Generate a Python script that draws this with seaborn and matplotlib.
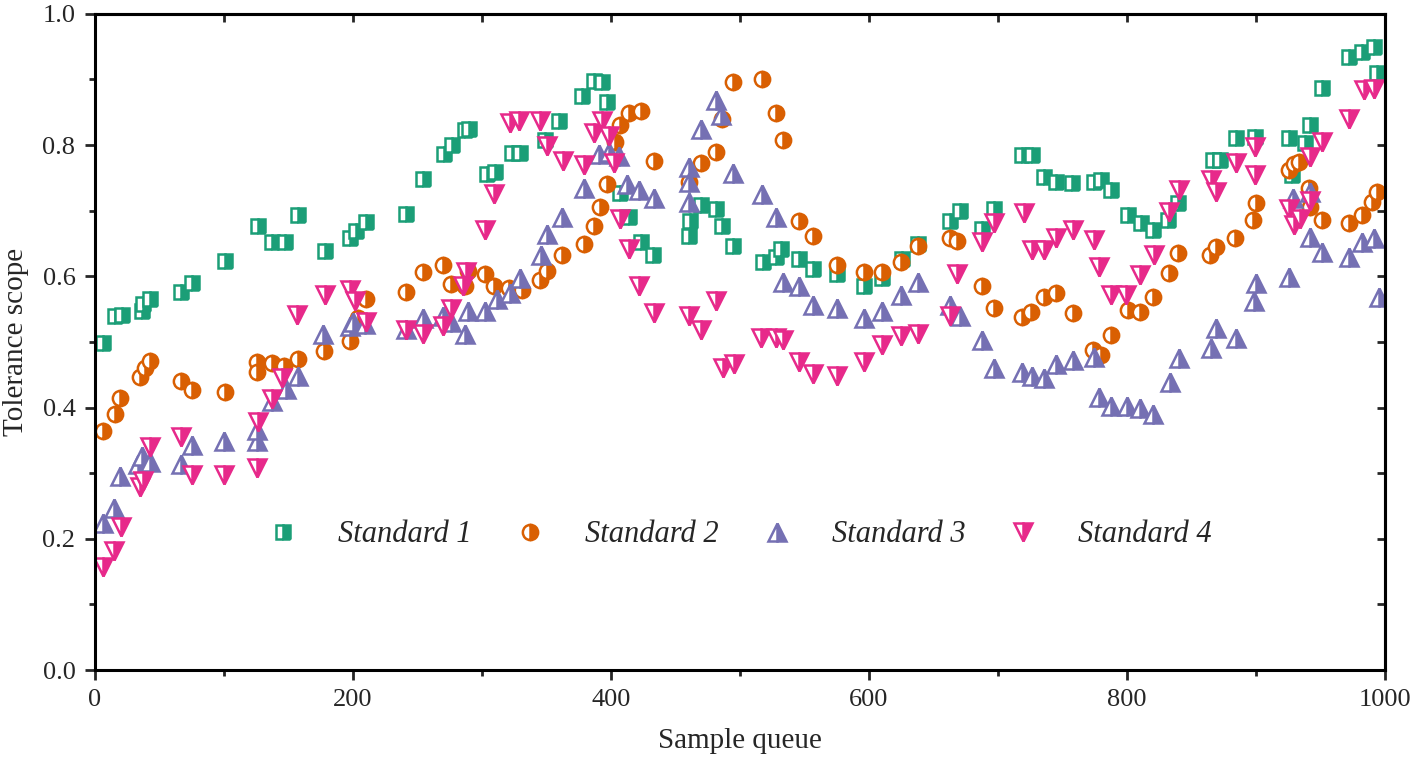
import pandas as pd
import matplotlib
matplotlib.use('Agg')
import matplotlib.pyplot as plt
from matplotlib.ticker import MultipleLocator, FormatStrFormatter
import seaborn as sns

# values
s1_x = [6.2, 15.4, 20.8, 36.2, 37.0, 42.4, 67.0, 75.5, 100.9, 126.3, 137.1, 147.1, 157.2, 178.7,
        198.0, 202.6, 210.3, 241.1, 254.2, 270.4, 276.6, 286.6, 290.4, 304.3, 310.5, 323.6, 329.7,
        349.0, 359.8, 377.5, 386.7, 392.9, 396.8, 406.8, 413.7, 423.7, 433.0, 460.7, 461.5, 470.0,
        481.5, 486.1, 494.6, 517.7, 527.7, 531.6, 545.5, 557.0, 575.5, 596.3, 610.2, 625.6, 637.9,
        662.6, 670.3, 688.0, 697.2, 718.8, 726.5, 735.7, 745.0, 757.3, 774.3, 779.7, 787.4, 801.2,
        811.2, 820.5, 832.0, 839.8, 866.7, 872.1, 884.4, 899.1, 926.0, 928.4, 938.4, 942.2, 951.5,
        972.3, 982.3, 991.5, 993.8]
s1_y = [0.498, 0.540, 0.541, 0.547, 0.558, 0.566, 0.576, 0.590, 0.623, 0.677, 0.652, 0.652, 0.694, 0.639,
        0.659, 0.669, 0.683, 0.695, 0.748, 0.787, 0.800, 0.823, 0.825, 0.756, 0.759, 0.788, 0.788,
        0.808, 0.837, 0.875, 0.898, 0.896, 0.866, 0.727, 0.691, 0.652, 0.633, 0.662, 0.684, 0.709,
        0.703, 0.677, 0.646, 0.622, 0.630, 0.642, 0.627, 0.611, 0.604, 0.585, 0.598, 0.627, 0.649,
        0.684, 0.700, 0.672, 0.703, 0.785, 0.785, 0.752, 0.744, 0.742, 0.744, 0.747, 0.732, 0.694,
        0.681, 0.671, 0.686, 0.712, 0.777, 0.777, 0.811, 0.812, 0.811, 0.755, 0.803, 0.831, 0.887,
        0.934, 0.942, 0.950, 0.910]

s2_x = [6.2, 15.4, 19.3, 34.7, 38.5, 42.4, 67.0, 75.5, 100.9, 125.6, 125.6, 137.1, 146.4, 157.2,
        178.0, 198.0, 204.2, 210.3, 241.1, 254.2, 269.6, 275.8, 286.6, 288.9, 302.8, 309.7, 321.3,
        331.3, 345.1, 350.5, 362.1, 379.0, 386.7, 391.4, 396.8, 402.9, 406.8, 413.7, 423.0, 433.7,
        460.7, 470.0, 481.5, 486.1, 494.6, 517.0, 527.7, 533.1, 545.5, 557.0, 575.5, 596.3, 610.2,
        624.8, 637.9, 662.6, 668.7, 688.0, 697.2, 718.8, 725.7, 735.7, 745.0, 758.1, 773.5, 779.7,
        787.4, 801.2, 810.5, 820.5, 832.8, 839.8, 864.4, 869.0, 883.7, 897.5, 899.8, 926.0, 929.9,
        933.7, 941.4, 942.2, 951.5, 972.3, 982.3, 990.0, 993.8]
s2_y = [0.364, 0.390, 0.415, 0.447, 0.460, 0.471, 0.441, 0.427, 0.424, 0.470, 0.454, 0.468, 0.463, 0.474,
        0.486, 0.502, 0.537, 0.566, 0.576, 0.607, 0.617, 0.588, 0.585, 0.608, 0.604, 0.585, 0.582,
        0.579, 0.595, 0.608, 0.633, 0.649, 0.677, 0.706, 0.741, 0.805, 0.831, 0.849, 0.852, 0.776,
        0.744, 0.773, 0.790, 0.840, 0.896, 0.901, 0.849, 0.808, 0.684, 0.662, 0.617, 0.607, 0.607,
        0.622, 0.646, 0.659, 0.654, 0.585, 0.552, 0.538, 0.546, 0.569, 0.575, 0.544, 0.488, 0.480,
        0.511, 0.549, 0.546, 0.569, 0.605, 0.636, 0.633, 0.645, 0.659, 0.686, 0.712, 0.762, 0.771,
        0.774, 0.735, 0.706, 0.686, 0.681, 0.694, 0.713, 0.729]

s3_x = [6.2, 14.6, 19.3, 33.1, 36.2, 42.4, 67.0, 75.5, 100.2, 125.6, 125.6, 137.1, 147.9, 157.2,
        177.2, 198.0, 200.3, 209.6, 241.1, 254.2, 269.6, 275.8, 286.6, 288.9, 302.8, 312.0, 322.0,
        329.7, 345.9, 350.5, 362.1, 379.0, 390.6, 398.3, 406.0, 412.2, 422.2, 433.7, 460.7, 460.7,
        460.7, 470.0, 481.5, 485.4, 494.6, 517.0, 527.7, 533.1, 545.5, 557.0, 575.5, 596.3, 610.2,
        624.8, 637.9, 662.6, 670.3, 688.0, 697.2, 718.8, 726.5, 735.7, 745.0, 758.1, 774.3, 778.1,
        787.4, 800.5, 810.5, 820.5, 833.6, 840.5, 865.2, 869.0, 884.4, 898.3, 899.8, 926.0, 929.1,
        942.2, 942.2, 951.5, 972.3, 982.3, 991.5, 995.4]
s3_y = [0.224, 0.247, 0.296, 0.314, 0.326, 0.317, 0.314, 0.343, 0.349, 0.349, 0.366, 0.410, 0.428, 0.448,
        0.512, 0.524, 0.530, 0.527, 0.520, 0.537, 0.540, 0.530, 0.512, 0.547, 0.547, 0.566, 0.575,
        0.598, 0.633, 0.665, 0.691, 0.735, 0.787, 0.790, 0.784, 0.741, 0.732, 0.720, 0.767, 0.744,
        0.713, 0.825, 0.869, 0.846, 0.758, 0.726, 0.691, 0.591, 0.585, 0.556, 0.552, 0.537, 0.547,
        0.572, 0.591, 0.556, 0.540, 0.503, 0.460, 0.454, 0.448, 0.445, 0.466, 0.473, 0.477, 0.416,
        0.402, 0.402, 0.399, 0.390, 0.439, 0.476, 0.491, 0.521, 0.506, 0.563, 0.590, 0.599, 0.720,
        0.729, 0.660, 0.637, 0.630, 0.652, 0.659, 0.569]

s4_x = [6.2, 14.6, 20.0, 34.7, 37.0, 42.4, 67.0, 75.5, 100.2, 125.6, 126.3, 137.1, 144.8, 156.4,
        178.7, 198.0, 201.8, 210.3, 241.1, 254.2, 269.6, 275.8, 285.1, 287.4, 302.8, 309.7, 322.0,
        329.0, 345.1, 350.5, 362.9, 379.0, 386.7, 392.9, 398.3, 402.2, 406.8, 413.7, 422.2, 433.7,
        460.7, 470.0, 481.5, 486.9, 495.4, 516.2, 527.7, 533.1, 545.5, 557.0, 575.5, 596.3, 610.2,
        624.8, 637.9, 662.6, 668.7, 688.0, 697.2, 720.3, 726.5, 735.7, 745.0, 758.1, 774.3, 778.1,
        787.4, 799.7, 810.5, 821.3, 832.8, 840.5, 865.2, 869.0, 884.4, 899.1, 899.1, 926.0, 929.9,
        934.5, 942.2, 942.2, 951.5, 972.3, 983.8, 991.5]
s4_y = [0.157, 0.181, 0.218, 0.279, 0.288, 0.340, 0.355, 0.297, 0.297, 0.308, 0.378, 0.413, 0.445, 0.541,
        0.572, 0.579, 0.563, 0.530, 0.518, 0.512, 0.524, 0.550, 0.585, 0.607, 0.671, 0.726, 0.834,
        0.837, 0.837, 0.799, 0.776, 0.770, 0.819, 0.837, 0.814, 0.773, 0.688, 0.642, 0.585, 0.544,
        0.540, 0.518, 0.563, 0.460, 0.466, 0.506, 0.506, 0.503, 0.470, 0.451, 0.448, 0.470, 0.495,
        0.509, 0.512, 0.540, 0.604, 0.652, 0.681, 0.697, 0.640, 0.640, 0.659, 0.671, 0.655, 0.614,
        0.572, 0.572, 0.602, 0.633, 0.698, 0.732, 0.747, 0.729, 0.773, 0.797, 0.755, 0.703, 0.678,
        0.688, 0.715, 0.782, 0.805, 0.840, 0.884, 0.886]

names = ['Standard 1', 'Standard 2', 'Standard 3', 'Standard 4']
xs = [s1_x, s2_x, s3_x, s4_x]
ys = [s1_y, s2_y, s3_y, s4_y]
markers = ['s', 'o', '^', 'v']
msizes = [10.5, 11, 12.5, 12.5]

sns.set_theme(style='white')
plt.rcParams['font.family'] = ['Liberation Serif', 'DejaVu Serif']

colors = sns.color_palette('Dark2', 4)

fig = plt.figure(figsize=(14.16, 7.64), dpi=100)
ax = fig.add_axes([0.067, 0.123, 0.911, 0.859])

for i in range(4):
    df = pd.DataFrame({'x': xs[i], 'y': ys[i]})
    sns.lineplot(data=df, x='x', y='y', ax=ax, estimator=None, sort=False,
                 linestyle='', marker=markers[i], markersize=msizes[i], fillstyle='right',
                 markeredgewidth=1.8, color=colors[i], markeredgecolor=colors[i],
                 markerfacecolor=colors[i], markerfacecoloralt='white', label=names[i])

ax.set_xlim(0, 1000)
ax.set_ylim(0, 1)
ax.xaxis.set_major_locator(MultipleLocator(200))
ax.xaxis.set_minor_locator(MultipleLocator(100))
ax.yaxis.set_major_locator(MultipleLocator(0.2))
ax.yaxis.set_minor_locator(MultipleLocator(0.1))
ax.yaxis.set_major_formatter(FormatStrFormatter('%.1f'))
ax.tick_params(which='major', direction='out', length=7, width=2, labelsize=19, pad=7)
ax.tick_params(which='minor', direction='out', length=4, width=2)
ax.tick_params(which='both', bottom=True, left=True, top=False, right=False)
for sp in ax.spines.values():
    sp.set_linewidth(2.2)
    sp.set_color('black')

# inward ticks on top and right
top = ax.secondary_xaxis('top')
top.xaxis.set_major_locator(MultipleLocator(200))
top.xaxis.set_minor_locator(MultipleLocator(100))
top.tick_params(which='both', direction='in', length=6, width=2, labeltop=False)
right = ax.secondary_yaxis('right')
right.yaxis.set_major_locator(MultipleLocator(0.2))
right.yaxis.set_minor_locator(MultipleLocator(0.1))
right.tick_params(which='both', direction='in', length=6, width=2, labelright=False)
for sec in (top, right):
    for sp in sec.spines.values():
        sp.set_linewidth(2.2)

ax.set_xlabel('Sample queue', fontsize=21, labelpad=12)
ax.set_ylabel('Tolerance scope', fontsize=21, labelpad=10)

handles = ax.get_lines()[:4]
leg = ax.legend(handles=handles, labels=names, loc='center', bbox_to_anchor=(0.5, 0.206),
                ncol=4, frameon=False, handlelength=1.0, handletextpad=1.3,
                columnspacing=1.4, prop={'style': 'italic', 'size': 22})

plt.savefig('out.png', dpi=100)
